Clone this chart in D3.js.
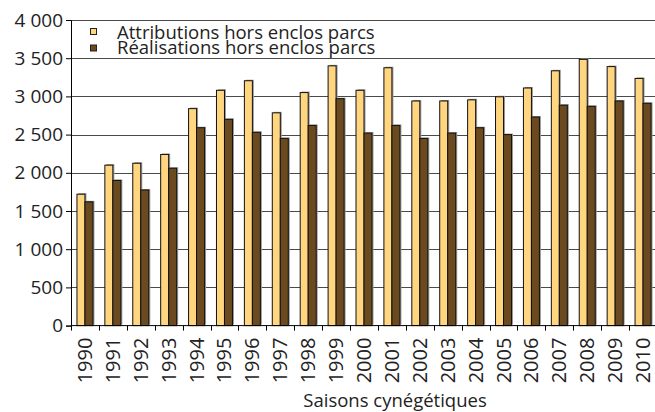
<!DOCTYPE html>
<html>
<head>
<meta charset="utf-8">
<script src="https://cdn.jsdelivr.net/npm/d3@7"></script>
<style>
  body { margin: 0; background: #fff; }
  text { font-family: "Open Sans", "DejaVu Sans", sans-serif; fill: #222; }
</style>
</head>
<body>
<div id="chart"></div>
<script>
'use strict';

const seasons = ['1990', '1991', '1992', '1993', '1994', '1995', '1996', '1997', '1998', '1999',
                 '2000', '2001', '2002', '2003', '2004', '2005', '2006', '2007', '2008', '2009', '2010'];
const attributions = [1720, 2100, 2125, 2240, 2840, 3080, 3205, 2785, 3050, 3400,
                      3080, 3375, 2940, 2940, 2955, 2995, 3110, 3335, 3485, 3390, 3235];
const realisations = [1620, 1900, 1775, 2060, 2590, 2700, 2530, 2450, 2620, 2970,
                      2520, 2620, 2450, 2520, 2590, 2500, 2730, 2885, 2870, 2940, 2910];
const seriesNames = ['Attributions hors enclos parcs', 'Réalisations hors enclos parcs'];
const seriesColors = ['#ffd580', '#6b4a1f'];
const yTicks = [0, 500, 1000, 1500, 2000, 2500, 3000, 3500, 4000];
const xTitle = 'Saisons cynégétiques';

const svgWidth = 655, svgHeight = 412;
const margin = {top: 20, right: -2, bottom: 86, left: 71};

const svg = d3.select('#chart').append('svg')
  .attr('width', svgWidth)
  .attr('height', svgHeight);

const frLocale = d3.formatLocale({decimal: ',', thousands: '\u00a0', grouping: [3], currency: ['', ' €']});
const fmt = frLocale.format(',d');

const x = d3.scaleBand()
  .domain(seasons)
  .range([margin.left, svgWidth - margin.right]);

const pair = 16;
const x1 = d3.scaleBand()
  .domain([0, 1])
  .range([(x.bandwidth() - pair) / 2, (x.bandwidth() + pair) / 2]);

const y = d3.scaleLinear()
  .domain([0, 4000])
  .range([svgHeight - margin.bottom - 0.4, margin.top]);

// grid
svg.append('g')
  .selectAll('line')
  .data(yTicks.filter(d => d > 0))
  .enter()
  .append('line')
    .attr('x1', margin.left)
    .attr('x2', svgWidth)
    .attr('y1', d => Math.round(y(d)) + 0.5)
    .attr('y2', d => Math.round(y(d)) + 0.5)
    .attr('stroke', '#4a4a4a')
    .attr('stroke-width', 1);

// bars
const data = [];
seasons.forEach((s, i) => {
  data.push({season: s, k: 0, value: attributions[i]});
  data.push({season: s, k: 1, value: realisations[i]});
});

const bars = svg.append('g');
bars.selectAll('rect.shadow')
  .data(data)
  .enter()
  .append('rect')
    .attr('class', 'shadow')
    .attr('x', d => x(d.season) + x1(d.k) + 1.5)
    .attr('y', d => y(d.value) - 1)
    .attr('width', x1.bandwidth())
    .attr('height', d => y(0) - y(d.value))
    .attr('fill', '#9a9a9a');

bars.selectAll('rect.bar')
  .data(data)
  .enter()
  .append('rect')
    .attr('class', 'bar')
    .attr('x', d => x(d.season) + x1(d.k))
    .attr('y', d => y(d.value))
    .attr('width', x1.bandwidth())
    .attr('height', d => y(0) - y(d.value))
    .attr('fill', d => seriesColors[d.k])
    .attr('stroke', '#111')
    .attr('stroke-width', 1);

// y axis
const yAxis = svg.append('g')
  .attr('transform', `translate(${margin.left},0)`)
  .call(d3.axisLeft(y).tickValues(yTicks).tickFormat(fmt).tickSize(5).tickPadding(3));
yAxis.select('.domain').attr('stroke', '#000');
yAxis.selectAll('.tick line').attr('stroke', '#000');
yAxis.selectAll('.tick text')
  .attr('font-size', 19)
  .attr('font-family', '"Open Sans", sans-serif')
  .attr('fill', '#222');

// x axis
const xAxisG = svg.append('g')
  .attr('transform', `translate(0,${y(0)})`);
xAxisG.append('line')
  .attr('x1', margin.left)
  .attr('x2', svgWidth)
  .attr('stroke', '#000');
xAxisG.selectAll('line.tick')
  .data(seasons)
  .enter()
  .append('line')
    .attr('class', 'tick')
    .attr('x1', d => Math.round(x(d)) + 0.5)
    .attr('x2', d => Math.round(x(d)) + 0.5)
    .attr('y1', 0)
    .attr('y2', 5)
    .attr('stroke', '#000');
xAxisG.selectAll('text')
  .data(seasons)
  .enter()
  .append('text')
    .attr('transform', d => `translate(${x(d) + x.bandwidth() / 2 + 7},12) rotate(-90)`)
    .attr('text-anchor', 'end')
    .attr('font-size', 20)
    .text(d => d);

svg.append('text')
  .attr('x', 395)
  .attr('y', 407)
  .attr('text-anchor', 'middle')
  .attr('font-size', 18.5)
  .text(xTitle);

// legend
const legend = svg.append('g');
seriesNames.forEach((name, i) => {
  legend.append('rect')
    .attr('x', 90.5)
    .attr('y', 28.5 + i * 16.5)
    .attr('width', 6)
    .attr('height', 6)
    .attr('fill', seriesColors[i])
    .attr('stroke', '#222');
  legend.append('text')
    .attr('x', 117)
    .attr('y', 38.5 + i * 15.5)
    .attr('font-size', 18.5)
    .text(name);
});
</script>
</body>
</html>
